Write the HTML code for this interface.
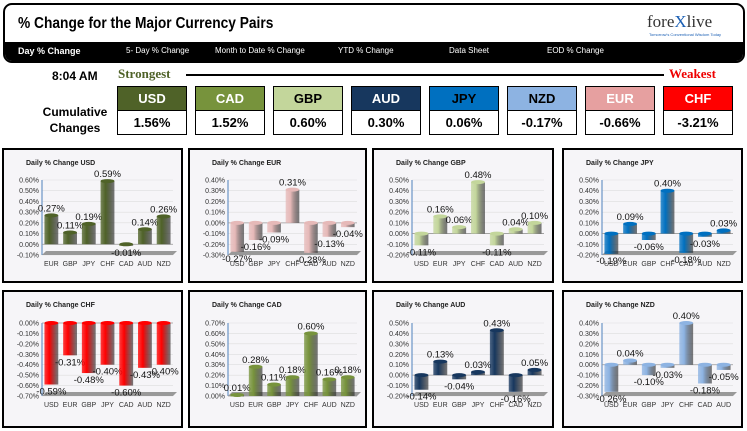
<!DOCTYPE html>
<html><head><meta charset="utf-8">
<style>
body{margin:0;width:747px;height:431px;background:#fff;font-family:"Liberation Sans",sans-serif;position:relative;overflow:hidden}
.abs{position:absolute}
.hdr{left:3px;top:3px;width:738px;height:56px;border:2px solid #000;border-radius:9px;background:#fff;overflow:hidden}
.band{left:0;top:37px;width:738px;height:19px;background:#000}
.nav{color:#fff;font-size:8px;top:43px;white-space:nowrap}
.box{width:68px;border:1px solid #000}
.bh{height:23px;color:#fff;font-weight:bold;font-size:13px;text-align:center;line-height:23px;font-family:"Liberation Sans Narrow","Liberation Sans",sans-serif}
.bv{height:23px;border-top:1px solid #000;text-align:center;line-height:23px;font-weight:bold;font-size:13px;font-family:"Liberation Sans Narrow","Liberation Sans",sans-serif;background:#fff}
.panel{border:2px solid #000;background:#fff}
</style></head><body>
<div class="abs hdr">
 <div class="abs" style="left:13px;top:10px;font-size:16px;font-weight:bold;transform:scaleX(0.86);transform-origin:left top;white-space:nowrap;font-family:'Liberation Sans Narrow','Liberation Sans',sans-serif">% Change for the Major Currency Pairs</div>
 <div class="abs" style="left:642px;top:7px;font-size:17px;font-family:'Liberation Serif',serif;color:#333">fore<span style="color:#1a5fb4">X</span>live</div>
 <div class="abs" style="left:644px;top:27px;font-size:4px;color:#1a5fb4">Tomorrow's Conventional Wisdom Today</div>
 <div class="abs band">
  <div class="abs nav" style="left:13px;top:4px;font-size:9px;font-weight:bold">Day % Change</div>
  <div class="abs nav" style="left:121px;top:4px">5- Day % Change</div>
  <div class="abs nav" style="left:210px;top:4px">Month to Date % Change</div>
  <div class="abs nav" style="left:333px;top:4px">YTD % Change</div>
  <div class="abs nav" style="left:444px;top:4px">Data Sheet</div>
  <div class="abs nav" style="left:542px;top:4px">EOD % Change</div>
 </div>
</div>
<div class="abs" style="left:52px;top:69px;font-size:12px;font-weight:bold;font-family:'Liberation Sans Narrow','Liberation Sans',sans-serif">8:04 AM</div>
<div class="abs" style="left:118px;top:66px;font-size:13px;font-weight:bold;color:#4f6228;font-family:'Liberation Serif',serif">Strongest</div>
<div class="abs" style="left:186px;top:74px;width:478px;height:2px;background:#000"></div>
<div class="abs" style="left:669px;top:66px;font-size:13px;font-weight:bold;color:#e00;font-family:'Liberation Serif',serif">Weakest</div>
<div class="abs" style="left:38px;top:104px;font-size:12px;font-weight:bold;text-align:center;line-height:16px;width:74px;font-family:'Liberation Sans Narrow','Liberation Sans',sans-serif">Cumulative Changes</div>
<div id="boxes"></div>
<div id="charts"></div>
<script>
const boxCur=["USD","CAD","GBP","AUD","JPY","NZD","EUR","CHF"];
const boxVal=["1.56%","1.52%","0.60%","0.30%","0.06%","-0.17%","-0.66%","-3.21%"];
const boxCol=["#4f6228","#77933c","#c3d69b","#17375e","#0070c0","#8db3e2","#e6a0a0","#ff0000"];
const boxTxt=["#fff","#fff","#000","#fff","#000","#000","#fff","#fff"];
const bx=document.getElementById('boxes');
boxCur.forEach((c,i)=>{
 const d=document.createElement('div');
 d.className='abs box';d.style.left=(117+i*78)+'px';d.style.top='86px';
 
 
 d.innerHTML='<div class="bh" style="background:'+boxCol[i]+';color:'+boxTxt[i]+'">'+c+'</div><div class="bv">'+boxVal[i]+'</div>';
 bx.appendChild(d);
});

const titles=["USD","EUR","GBP","JPY","CHF","CAD","AUD","NZD"];
const colors=["#4f6228","#e6b9b8","#c3d69b","#0070c0","#ff0000","#77933c","#17375e","#8db3e2"];
const catsUSD=["EUR","GBP","JPY","CHF","CAD","AUD","NZD"];
const catsEUR=["USD","GBP","JPY","CHF","CAD","AUD","NZD"];
const catsGBP=["USD","EUR","JPY","CHF","CAD","AUD","NZD"];
const catsJPY=["USD","EUR","GBP","CHF","CAD","AUD","NZD"];
const catsCHF=["USD","EUR","GBP","JPY","CAD","AUD","NZD"];
const catsCAD=["USD","EUR","GBP","JPY","CHF","AUD","NZD"];
const catsAUD=["USD","EUR","GBP","JPY","CHF","CAD","NZD"];
const catsNZD=["USD","EUR","GBP","JPY","CHF","CAD","AUD"];
const valsUSD=[0.27,0.11,0.19,0.59,-0.01,0.14,0.26];
const valsEUR=[-0.27,-0.16,-0.09,0.31,-0.28,-0.13,-0.04];
const valsGBP=[-0.11,0.16,0.06,0.48,-0.11,0.04,0.10];
const valsJPY=[-0.19,0.09,-0.06,0.40,-0.18,-0.03,0.03];
const valsCHF=[-0.59,-0.31,-0.48,-0.40,-0.60,-0.43,-0.40];
const valsCAD=[0.01,0.28,0.11,0.18,0.60,0.16,0.18];
const valsAUD=[-0.14,0.13,-0.04,0.03,0.43,-0.16,0.05];
const valsNZD=[-0.26,0.04,-0.10,-0.03,0.40,-0.18,-0.05];
const yMin=[-0.10,-0.30,-0.20,-0.20,-0.70,0.00,-0.20,-0.30];
const yMax=[0.60,0.40,0.50,0.50,0.00,0.70,0.50,0.40];
const allCats=[catsUSD,catsEUR,catsGBP,catsJPY,catsCHF,catsCAD,catsAUD,catsNZD];
const allVals=[valsUSD,valsEUR,valsGBP,valsJPY,valsCHF,valsCAD,valsAUD,valsNZD];

const panelX=[2,188,372,562];const panelY=[148,290];const pw=[181,179,182,181];const ph=[135,138];
const NS='http://www.w3.org/2000/svg';
const host=document.getElementById('charts');
function mk(tag,attrs,parent){const e=document.createElementNS(NS,tag);for(const k in attrs)e.setAttribute(k,attrs[k]);parent.appendChild(e);return e;}
for(let i=0;i<8;i++){
 const col=i%4,row=Math.floor(i/4);
 const div=document.createElement('div');
 div.className='abs panel';
 div.style.left=panelX[col]+'px';div.style.top=panelY[row]+'px';
 div.style.width=(pw[col]-4)+'px';div.style.height=(ph[row]-4)+'px';
 
 
 host.appendChild(div);
 const W=pw[col]-4,H=ph[row]-4;
 const svg=mk('svg',{width:W,height:H},div);
 const g=document.createElementNS(NS,'defs');svg.appendChild(g);
 const lg=mk('linearGradient',{id:'g'+i,x1:0,x2:1,y1:0,y2:0},g);
 mk('stop',{offset:'0','stop-color':colors[i],'stop-opacity':'0.75'},lg);
 mk('stop',{offset:'0.35','stop-color':colors[i]},lg);
 mk('stop',{offset:'1','stop-color':'#222','stop-opacity':'0.6'},lg);
 mk('rect',{x:0,y:0,width:W,height:H,fill:'#f6f5f8'},svg);
 const t=mk('text',{x:22,y:15,'font-size':7,'font-weight':'bold',fill:'#222'},svg);
 t.textContent='Daily % Change '+titles[i];
 
 
 const top=row?31:30, bot=row?104:105, x0=38, x1=W-8;
 const ys=v=>bot-(v-yMin[i])/(yMax[i]-yMin[i])*(bot-top);
 const steps=Math.round((yMax[i]-yMin[i])/0.1);
 for(let k=0;k<=steps;k++){
  const v=yMin[i]+k*0.1,y=ys(v);
  mk('line',{x1:x0,x2:x1,y1:y,y2:y,stroke:'#ddd','stroke-width':0.6},svg);
  const tl=mk('text',{x:x0-3,y:y+2.5,'font-size':7,'text-anchor':'end',fill:'#333'},svg);
  tl.textContent=v.toFixed(2).replace('-0.00','0.00')+'%';
  
  
 }
 mk('line',{x1:x0,x2:x0,y1:top,y2:bot,stroke:'#4f81bd','stroke-width':1},svg);
 mk('polygon',{points:(x0)+','+bot+' '+(x1)+','+bot+' '+(x1+4)+','+(bot-4)+' '+(x0+4)+','+(bot-4),fill:'#999'},svg);
 mk('line',{x1:x0,x2:x1,y1:ys(0),y2:ys(0),stroke:'#999','stroke-width':0.8},svg);
 const cats=allCats[i],vals=allVals[i],n=cats.length,slot=(x1-x0)/n,bw=slot*0.74;
 for(let j=0;j<n;j++){
  const cx=x0+slot*(j+0.5),v=vals[j];
  const y0=ys(0),yv=ys(v),yt=Math.min(y0,yv),hh=Math.max(Math.abs(yv-y0),1.5);
  const b=mk('rect',{x:cx-bw/2,y:yt,width:bw,height:hh,fill:'url(#g'+i+')'},svg);
  
  
  mk('ellipse',{cx:cx,cy:yt,rx:bw/2,ry:2,fill:colors[i]},svg);
  const ly=v>=0?yt-4:yt+hh+10;
  const dl=mk('text',{x:cx,y:ly,'font-size':9.5,'text-anchor':'middle',fill:'#111'},svg);
  dl.textContent=v.toFixed(2)+'%';
  
  
  const cl=mk('text',{x:cx,y:bot+11,'font-size':7,'text-anchor':'middle',fill:'#333'},svg);
  cl.textContent=cats[j];
  
  
 }
}
</script>
</body></html>
